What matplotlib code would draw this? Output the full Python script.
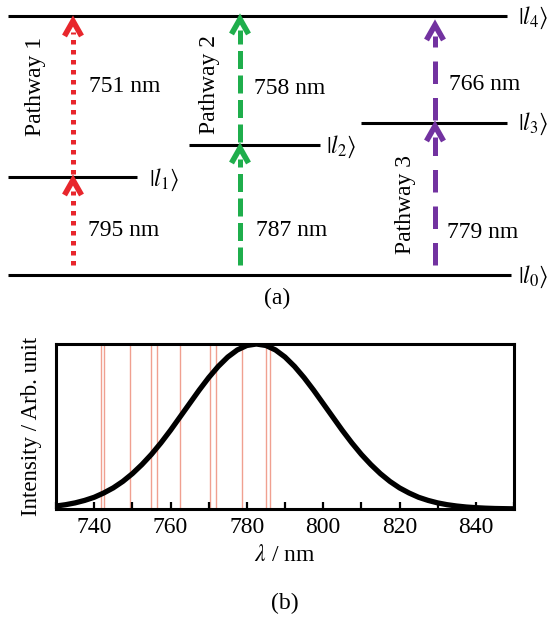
import matplotlib
matplotlib.use("Agg")
import matplotlib.pyplot as plt
from matplotlib import font_manager
from matplotlib.ticker import MultipleLocator

# locate a Times-like font robustly
serif_name = 'DejaVu Serif'
for f in font_manager.findSystemFonts():
    base = f.split('/')[-1].lower()
    if base.startswith('liberationserif-regular'):
        font_manager.fontManager.addfont(f)
        serif_name = font_manager.FontProperties(fname=f).get_name()
        break
for f in font_manager.findSystemFonts():
    base = f.split('/')[-1].lower()
    if base.startswith('liberationserif'):
        font_manager.fontManager.addfont(f)

plt.rcParams['font.family'] = [serif_name, 'DejaVu Serif']
plt.rcParams['mathtext.fontset'] = 'stix'

# ---------------- data ----------------
level_labels = [r'$|l_0\rangle$', r'$|l_1\rangle$', r'$|l_2\rangle$', r'$|l_3\rangle$', r'$|l_4\rangle$']
pathway_names = ['Pathway 1', 'Pathway 2', 'Pathway 3']
lower_wavelengths = [795, 787, 779]   # nm, l0 -> intermediate
upper_wavelengths = [751, 758, 766]   # nm, intermediate -> l4

spec_wavelength = [730, 732.5, 735, 737.5, 740, 742.5, 745, 747.5, 750, 752.5, 755, 757.5,
                   760, 762.5, 765, 767.5, 770, 772.5, 775, 777.5, 780, 782.5, 785, 787.5,
                   790, 792.5, 795, 797.5, 800, 802.5, 805, 807.5, 810, 812.5, 815, 817.5,
                   820, 822.5, 825, 827.5, 830, 832.5, 835, 837.5, 840, 842.5, 845, 847.5, 850]
spec_intensity = [0.018, 0.026, 0.037, 0.052, 0.071, 0.097, 0.128, 0.167, 0.214, 0.269, 0.331, 0.401,
                  0.477, 0.558, 0.639, 0.720, 0.796, 0.864, 0.921, 0.964, 0.991, 1.000, 0.991, 0.964,
                  0.921, 0.864, 0.796, 0.720, 0.639, 0.558, 0.477, 0.401, 0.331, 0.269, 0.214, 0.167,
                  0.128, 0.097, 0.071, 0.052, 0.037, 0.026, 0.018, 0.012, 0.008, 0.005, 0.003, 0.002, 0.001]
marker_lines = [741.8, 742.6, 749.3, 755.0, 756.5, 762.5, 770.3, 771.8, 778.8, 784.9, 786.0]
xticks_major = [740, 760, 780, 800, 820, 840]

# ---------------- layout (pixel coordinates of the diagram) ----------------
W, H = 550, 621
fig = plt.figure(figsize=(W / 100, H / 100), dpi=100)
ax = fig.add_axes([0, 0, 1, 1])
ax.set_xlim(0, W)
ax.set_ylim(H, 0)
ax.axis('off')

level_y = [275, 177, 145, 123, 16]
level_x = [(8, 511), (8, 137), (189, 320), (361, 507), (8, 507)]
label_xy = [(518, 277), (149, 180), (326, 147), (518, 124), (518, 18)]
for (x0, x1), y in zip(level_x, level_y):
    ax.plot([x0, x1], [y, y], color='black', lw=2.2, solid_capstyle='butt')
for lab, (lx, ly) in zip(level_labels, label_xy):
    ax.text(lx, ly, lab, fontsize=17, ha='left', va='center')

colors = ['#e8262c', '#1fae4c', '#7232a0']
styles = [(0, (0.9, 1.1)), (0, (3.6, 1.3)), (0, (4.5, 2.8))]
arrow_x = [73, 240, 435]
mid_level = [1, 2, 3]
head_h, head_w = 18, 8.5


def arrow(x, y_start, y_tip, color, ls):
    ax.plot([x, x], [y_start, y_tip + head_h - 4], color=color, lw=3.6,
            linestyle=ls, solid_capstyle='butt', dash_capstyle='butt')
    ax.plot([x - head_w, x, x + head_w], [y_tip + head_h, y_tip + 3, y_tip + head_h],
            color=color, lw=4.0, solid_joinstyle='miter', solid_capstyle='butt')


upper_tip_offsets = [2, 0, 6]
for i in range(3):
    ymid = level_y[mid_level[i]]
    arrow(arrow_x[i], 265, ymid, colors[i], styles[i])
    arrow(arrow_x[i], ymid - 3, level_y[4] + upper_tip_offsets[i], colors[i], styles[i])

upper_text_xy = [(89, 87), (254, 88), (449, 85)]
lower_text_xy = [(88, 230), (256, 230), (447, 233)]
for i in range(3):
    ax.text(*upper_text_xy[i], f'{upper_wavelengths[i]} nm', fontsize=17, ha='left', va='center')
    ax.text(*lower_text_xy[i], f'{lower_wavelengths[i]} nm', fontsize=17, ha='left', va='center')

pathway_xy = [(36, 86), (209, 84), (405, 204)]
for name, (px, py) in zip(pathway_names, pathway_xy):
    ax.text(px, py, name, fontsize=17, rotation=90, ha='center', va='center')

ax.text(277, 298, '(a)', fontsize=17, ha='center', va='center')
ax.text(285, 603, '(b)', fontsize=17, ha='center', va='center')

# ---------------- spectrum panel ----------------
ax2 = fig.add_axes([56 / W, 1 - 509 / H, 458 / W, 165 / H])
for w in marker_lines:
    ax2.axvline(w, color='#f0a090', lw=1.0, zorder=1)
ax2.plot(spec_wavelength, spec_intensity, color='black', lw=3.8, zorder=3,
         solid_capstyle='round')
ax2.set_xlim(730, 850)
ax2.set_ylim(0, 1.0)
ax2.set_yticks([])
ax2.xaxis.set_minor_locator(MultipleLocator(10))
ax2.set_xticks(xticks_major)
ax2.tick_params(axis='x', which='both', direction='in', length=5, width=1.6,
                labelsize=17, pad=6, top=False)
for s in ax2.spines.values():
    s.set_linewidth(2.2)
ax2.set_xlabel(r'$\lambda$ / nm', fontsize=17, labelpad=5)
ax2.set_ylabel('Intensity / Arb. unit', fontsize=16.5, labelpad=10)

fig.savefig('out.png', dpi=100)
